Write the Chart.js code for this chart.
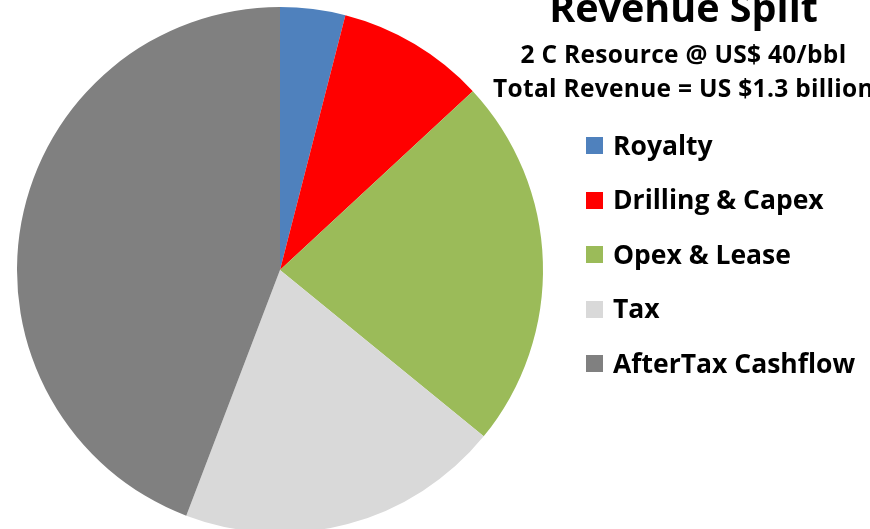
<!DOCTYPE html>
<html lang="en">

<head>
    <meta charset="UTF-8">
    <title>Revenue Split</title>
    <script src="https://cdn.jsdelivr.net/npm/chart.js"></script>
    <style>
        body {
            margin: 0;
            width: 870px;
            height: 529px;
            overflow: hidden;
            background: #ffffff;
            font-family: "Open Sans", Arial, sans-serif;
            font-weight: bold;
            position: relative;
        }

        #wrap {
            position: absolute;
            left: 0;
            top: 0;
            width: 870px;
            height: 540px;
        }

        .titulo {
            position: absolute;
            width: 420px;
            left: 473.5px;
            text-align: center;
            color: #000;
            white-space: nowrap;
            line-height: normal;
        }

        .sub {
            font-size: 24.5px;
            letter-spacing: 0.3px;
        }

        #leyenda {
            position: absolute;
            left: 586px;
            top: 117.5px;
        }

        .item {
            height: 54.5px;
            line-height: 54.5px;
            display: flex;
            align-items: center;
            font-size: 26.5px;
            color: #000;
            white-space: nowrap;
        }

        .caja {
            width: 17px;
            height: 17px;
            margin-right: 10px;
            margin-top: 2px;
        }
    </style>
</head>

<body>
    <div id="wrap"><canvas id="grafico"></canvas></div>
    <div class="titulo" style="top:-20px;font-size:39.5px;">Revenue Split</div>
    <div class="titulo sub" style="top:36.5px;">2 C Resource @ US$ 40/bbl</div>
    <div class="titulo sub" style="top:70.5px;">Total Revenue = US $1.3 billion</div>
    <div id="leyenda"></div>

    <script>
        // Reparto de ingresos (% del total)
        const categorias = ['Royalty', 'Drilling & Capex', 'Opex & Lease', 'Tax', 'AfterTax Cashflow'];
        const valores = [4.0, 9.1, 22.8, 19.9, 44.2];
        const colores = ['#4F81BD', '#FF0000', '#9BBB59', '#D9D9D9', '#808080'];

        const leyenda = document.getElementById('leyenda');
        categorias.forEach((c, i) => {
            const d = document.createElement('div');
            d.className = 'item';
            d.innerHTML = '<span class="caja" style="background:' + colores[i] + '"></span>' + c;
            leyenda.appendChild(d);
        });

        const ctx = document.getElementById('grafico').getContext('2d');
        new Chart(ctx, {
            type: 'pie',
            data: {
                labels: categorias,
                datasets: [{
                    data: valores,
                    backgroundColor: colores,
                    borderWidth: 0
                }]
            },
            options: {
                responsive: true,
                maintainAspectRatio: false,
                animation: false,
                layout: {
                    padding: { left: 17, top: 7, right: 327, bottom: 7 }
                },
                plugins: {
                    legend: { display: false },
                    tooltip: { enabled: false }
                }
            }
        });
    </script>
</body>

</html>
